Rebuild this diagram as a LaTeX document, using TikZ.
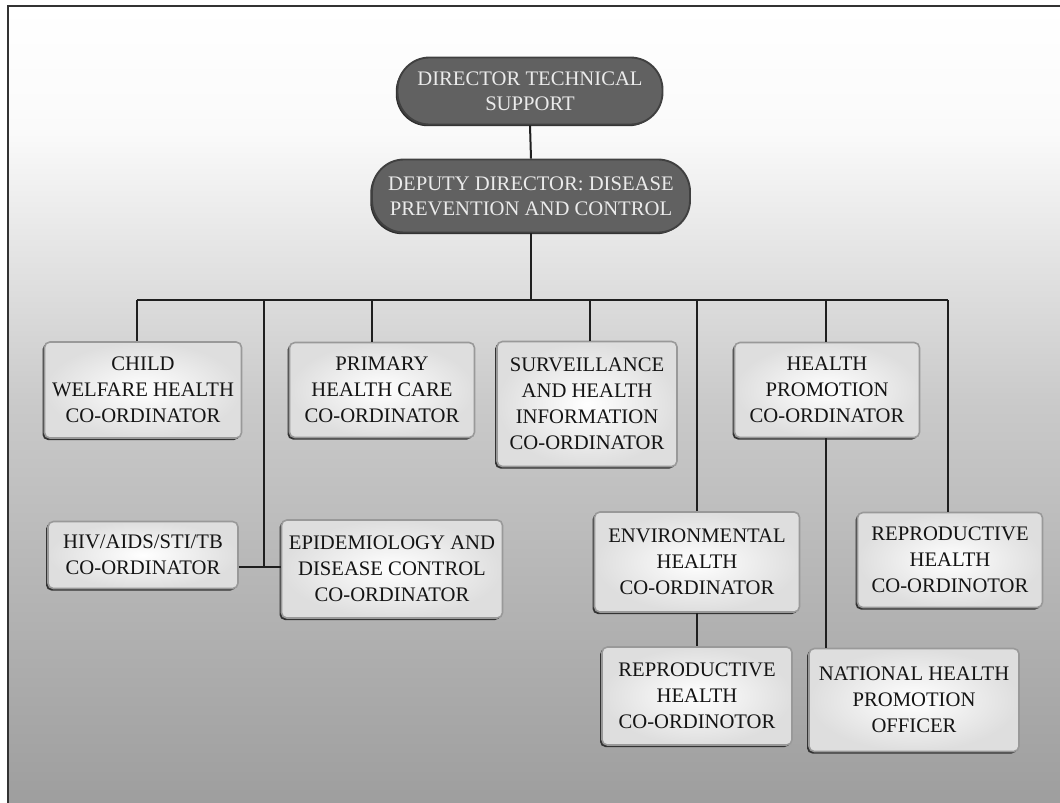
\documentclass[tikz,border=0pt]{standalone}
\usepackage{fontspec}
\setmainfont{Liberation Serif}
\usetikzlibrary{shadows}
\definecolor{bgA}{gray}{0.62}
\definecolor{bgB}{gray}{0.70}
\definecolor{bgC}{gray}{0.79}
\definecolor{bgD}{gray}{0.90}
\definecolor{bgE}{gray}{0.98}
\pgfdeclareverticalshading{pagebg}{100bp}{%
  color(0bp)=(bgA); color(25bp)=(bgA); color(37bp)=(bgB);
  color(50bp)=(bgC); color(60bp)=(bgD); color(67bp)=(bgE);
  color(75bp)=(white); color(100bp)=(white)}
\tikzset{
  px/.style={x=0.75pt,y=-0.75pt},
  link/.style={draw=black!88,line width=1.5pt},
  lead/.style={rectangle,rounded corners=24pt,fill=black!62,draw=black!75,
    line width=1.4pt,text=white!92!black,align=center,inner sep=0pt,
    font=\fontsize{15.5}{19}\selectfont,
    drop shadow={shadow xshift=-1.3pt,shadow yshift=-1.3pt,fill=black!82,opacity=1}},
  unit/.style={rectangle,rounded corners=4pt,inner color=white,outer color=black!13,
    draw=black!40,line width=1.2pt,align=center,inner sep=0pt,text=black!92,
    font=\fontsize{15.5}{19.5}\selectfont,
    drop shadow={shadow xshift=-1.5pt,shadow yshift=-1.5pt,fill=black!80,opacity=1}},
}
\begin{document}
\begin{tikzpicture}[px]
\useasboundingbox (0,0) rectangle (1060,803);
% page background and frame
\shade[shading=pagebg] (8,6) rectangle (1060,803);
\draw[black!80,line width=1.2pt] (8,803) -- (8,6) -- (1060,6);

% senior posts
\node[lead,minimum width=198.75pt,minimum height=50.25pt] (dir) at (530,91)
  {DIRECTOR TECHNICAL\\SUPPORT};
\node[lead,minimum width=238.5pt,minimum height=54.75pt] (dep) at (531,196)
  {DEPUTY DIRECTOR: DISEASE\\PREVENTION AND CONTROL};

% first row of co-ordinators
\node[unit,minimum width=147.75pt,minimum height=72pt] (child) at (143,390)
  {CHILD\\WELFARE HEALTH\\CO-ORDINATOR};
\node[unit,minimum width=138.75pt,minimum height=71.25pt] (phc) at (382,390)
  {PRIMARY\\HEALTH CARE\\CO-ORDINATOR};
\node[unit,minimum width=135pt,minimum height=93.75pt] (surv) at (587,404)
  {SURVEILLANCE\\AND HEALTH\\INFORMATION\\CO-ORDINATOR};
\node[unit,minimum width=138.75pt,minimum height=71.25pt] (hp) at (827,390)
  {HEALTH\\PROMOTION\\CO-ORDINATOR};

% second row
\node[unit,minimum width=142.5pt,minimum height=50.25pt] (hiv) at (143,555)
  {HIV/AIDS/STI/TB\\CO-ORDINATOR};
\node[unit,minimum width=165.75pt,minimum height=73.5pt] (epi) at (392,569)
  {EPIDEMIOLOGY AND\\DISEASE CONTROL\\CO-ORDINATOR};
\node[unit,minimum width=153.75pt,minimum height=75pt] (env) at (697,562)
  {ENVIRONMENTAL\\HEALTH\\CO-ORDINATOR};
\node[unit,minimum width=138.75pt,minimum height=71.25pt] (rhA) at (950,560)
  {REPRODUCTIVE\\HEALTH\\CO-ORDINOTOR};

% third row
\node[unit,minimum width=142.5pt,minimum height=73.5pt] (rhB) at (697,696)
  {REPRODUCTIVE\\HEALTH\\CO-ORDINOTOR};
\node[unit,minimum width=157.5pt,minimum height=77.25pt] (nhpo) at (914,700)
  {NATIONAL HEALTH\\PROMOTION\\OFFICER};

% bus and drop points
\coordinate (busL) at (137,300);
\coordinate (busR) at (948,300);
\coordinate (dChild) at (137,300);
\coordinate (dJoin) at (264,300);
\coordinate (dPhc) at (372,300);
\coordinate (dSurv) at (590,300);
\coordinate (dEnv) at (697,300);
\coordinate (dHp) at (826,300);
\coordinate (dRh) at (948,300);
\coordinate (jLow) at (264,567);

\path[link] (dir.south) -- (dep.north);
\path[link] (dep.south) -- (dep.south |- busL);
\path[link] (busL) -- (busR);
\path[link] (dChild) -- (dChild |- child.north);
\path[link] (dPhc) -- (dPhc |- phc.north);
\path[link] (dSurv) -- (dSurv |- surv.north);
\path[link] (dHp) -- (dHp |- hp.north);
\path[link] (dEnv) -- (dEnv |- env.north);
\path[link] (dRh) -- (dRh |- rhA.north);
\path[link] (dJoin) -- (jLow);
\path[link] (hiv.east |- jLow) -- (epi.west |- jLow);
\path[link] (env.south) -- (rhB.north);
\path[link] (hp.south -| dHp) -- (dHp |- nhpo.north);
\end{tikzpicture}
\end{document}
